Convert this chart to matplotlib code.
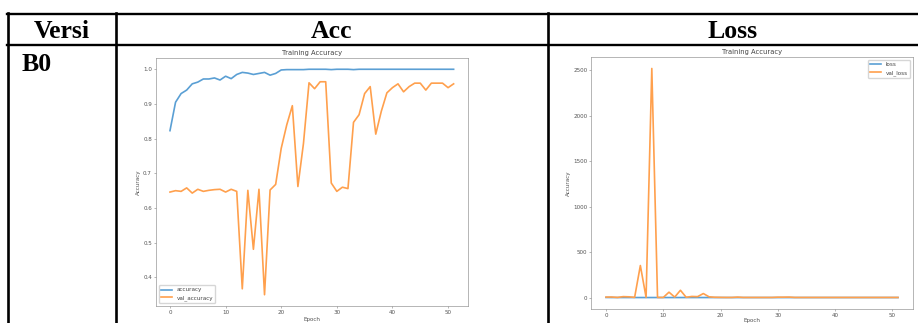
import matplotlib
matplotlib.use("Agg")
import matplotlib.pyplot as plt
from matplotlib.lines import Line2D
import numpy as np

W, H = 918, 323

epochs = np.arange(52)

accuracy = [0.823, 0.905, 0.930, 0.940, 0.958, 0.963, 0.972, 0.972, 0.975, 0.969,
            0.980, 0.973, 0.985, 0.991, 0.989, 0.985, 0.988, 0.991, 0.983, 0.988,
            0.998, 0.999, 0.999, 0.999, 0.999, 1.000, 1.000, 1.000, 1.000, 0.999,
            1.000, 1.000, 1.000, 0.999, 1.000, 1.000, 1.000, 1.000, 1.000, 1.000,
            1.000, 1.000, 1.000, 1.000, 1.000, 1.000, 1.000, 1.000, 1.000, 1.000,
            1.000, 1.000]

val_accuracy = [0.646, 0.650, 0.648, 0.658, 0.643, 0.654, 0.648, 0.651, 0.653, 0.654,
                0.646, 0.654, 0.648, 0.367, 0.651, 0.481, 0.654, 0.350, 0.652, 0.668,
                0.772, 0.840, 0.895, 0.662, 0.786, 0.961, 0.944, 0.964, 0.964, 0.672,
                0.648, 0.660, 0.656, 0.847, 0.869, 0.930, 0.950, 0.813, 0.879, 0.932,
                0.947, 0.958, 0.935, 0.950, 0.960, 0.960, 0.940, 0.960, 0.960, 0.960,
                0.947, 0.958]

loss = [0.9, 0.3, 0.2, 0.2, 0.1, 0.1, 0.1, 0.1, 0.1, 0.1,
        0.1, 0.1, 0.1, 0.1, 0.1, 0.1, 0.1, 0.1, 0.1, 0.1,
        0.0, 0.0, 0.0, 0.0, 0.0, 0.0, 0.0, 0.0, 0.0, 0.0,
        0.0, 0.0, 0.0, 0.0, 0.0, 0.0, 0.0, 0.0, 0.0, 0.0,
        0.0, 0.0, 0.0, 0.0, 0.0, 0.0, 0.0, 0.0, 0.0, 0.0,
        0.0, 0.0]

val_loss = [5, 6, 1, 10, 8, 2, 352, 2, 2518, 1,
            1, 59, 5, 80, 3, 12, 10, 44, 8, 3,
            2, 1, 1, 5, 1, 1, 1, 1, 1, 1,
            4, 4, 5, 1, 1, 1, 1, 1, 1, 1,
            1, 1, 1, 1, 1, 1, 1, 1, 1, 1,
            1, 1]

headers = ["Versi", "Acc", "Loss"]
row_label = "B0"

# original plots were drawn at a larger size and shrunk into the table
s = 0.403
plt.rcParams.update({
    "font.family": "DejaVu Sans",
    "font.size": 10 * s,
    "axes.titlesize": 12 * s,
    "axes.labelsize": 10 * s,
    "xtick.labelsize": 10 * s,
    "ytick.labelsize": 10 * s,
    "legend.fontsize": 10 * s,
    "axes.linewidth": 0.8 * s * 1.4,
    "xtick.major.width": 0.8 * s * 1.4,
    "ytick.major.width": 0.8 * s * 1.4,
    "xtick.major.size": 3.5 * s,
    "ytick.major.size": 3.5 * s,
    "xtick.major.pad": 3.5 * s,
    "ytick.major.pad": 3.5 * s,
    "axes.labelpad": 4 * s,
    "axes.titlepad": 6 * s,
    "axes.edgecolor": "#8c8c8c",
    "xtick.color": "#8c8c8c",
    "ytick.color": "#8c8c8c",
    "xtick.labelcolor": "#555555",
    "ytick.labelcolor": "#555555",
    "axes.labelcolor": "#555555",
    "text.color": "#444444",
})

blue = "#5a9fd4"
orange = "#ffa04d"

fig = plt.figure(figsize=(W / 100, H / 100), dpi=100)


def px(x0, top, x1, bottom):
    return [x0 / W, 1 - bottom / H, (x1 - x0) / W, (bottom - top) / H]


# table grid
def hline(y, x0, x1):
    fig.add_artist(Line2D([x0 / W, x1 / W], [1 - y / H, 1 - y / H],
                          transform=fig.transFigure, color="black", lw=1.7))


def vline(x, y0, y1):
    fig.add_artist(Line2D([x / W, x / W], [1 - y0 / H, 1 - y1 / H],
                          transform=fig.transFigure, color="black", lw=1.9))


hline(13.5, 6.5, 918)
hline(44.5, 6.5, 918)
for xv in (7.5, 116, 548):
    vline(xv, 12.5, 323)

for txt, xc in zip(headers, (62, 332, 733)):
    fig.text(xc / W, 1 - 37.5 / H, txt, ha="center", va="baseline",
             family="Liberation Serif", weight="bold", fontsize=18.5, color="black")
fig.text(22 / W, 1 - 71 / H, row_label, ha="left", va="baseline",
         family="Liberation Serif", weight="bold", fontsize=18.5, color="black")

# accuracy plot
ax1 = fig.add_axes(px(155.8, 58, 467.8, 306))
ax1.plot(epochs, accuracy, color=blue, lw=1.2, label="accuracy")
ax1.plot(epochs, val_accuracy, color=orange, lw=1.2, label="val_accuracy")
ax1.set_title("Training Accuracy")
ax1.set_xlabel("Epoch")
ax1.set_ylabel("Accuracy")
ax1.set_yticks([0.4, 0.5, 0.6, 0.7, 0.8, 0.9, 1.0])
ax1.legend(loc="lower left", handlelength=2.0)

# loss plot
ax2 = fig.add_axes(px(591.4, 57, 912.6, 309))
ax2.plot(epochs, loss, color=blue, lw=1.2, label="loss")
ax2.plot(epochs, val_loss, color=orange, lw=1.2, label="val_loss")
ax2.set_title("Training Accuracy")
ax2.set_xlabel("Epoch", labelpad=0.3)
ax2.set_ylabel("Accuracy")
ax2.legend(loc="upper right", handlelength=2.0)

fig.savefig("out.png", dpi=100)
